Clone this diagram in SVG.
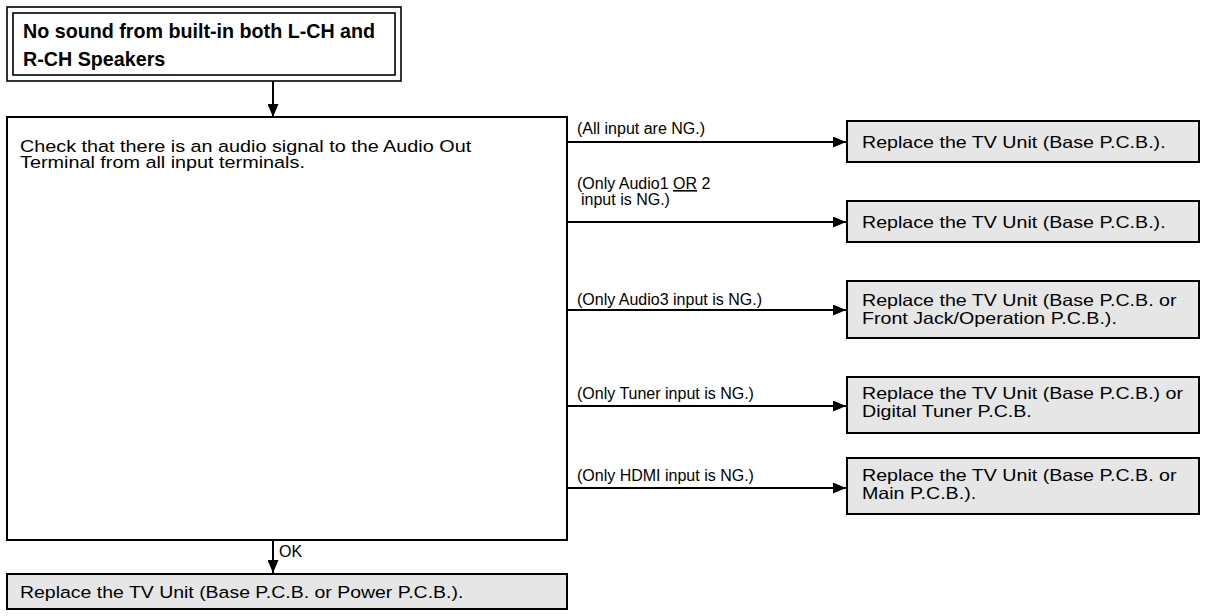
<svg xmlns="http://www.w3.org/2000/svg" width="1207" height="616" viewBox="0 0 1207 616">
<defs>
<marker id="ah" viewBox="0 0 13 11" refX="13" refY="5.5" markerWidth="13" markerHeight="11" markerUnits="userSpaceOnUse" orient="auto">
<path d="M0,0 L13,5.5 L0,11 z" fill="#000"/>
</marker>
<style>
.t{font-family:"Liberation Sans",Arial,sans-serif;font-size:16.5px;fill:#000}
.l{font-family:"Liberation Sans",Arial,sans-serif;font-size:16px;fill:#000}
.b{font-family:"Liberation Sans",Arial,sans-serif;font-size:19.7px;font-weight:bold;fill:#000}
.box{fill:#fff;stroke:#000;stroke-width:2}
.dbl{fill:none;stroke:#000;stroke-width:1.6}
.gbox{fill:#e6e6e6;stroke:#000;stroke-width:2}
.ln{fill:none;stroke:#000;stroke-width:2}
</style>
</defs>
<rect width="1207" height="616" fill="#fff"/>
<g id="title">
<rect class="dbl" x="7" y="7" width="394" height="74" fill="#fff"/>
<rect class="dbl" x="13" y="13" width="382" height="62"/>
<text class="b" x="23" y="38">No sound from built-in both L-CH and</text>
<text class="b" x="23" y="66">R-CH Speakers</text>
</g>
<g id="check">
<rect class="box" x="7" y="117" width="560" height="423"/>
<text class="t" transform="translate(20,152) scale(1.2,1)">Check that there is an audio signal to the Audio Out</text>
<text class="t" transform="translate(20,168) scale(1.2,1)">Terminal from all input terminals.</text>
</g>
<g id="r1">
<rect class="gbox" x="847" y="121" width="352" height="41"/>
<text class="t" transform="translate(862,148) scale(1.19,1)">Replace the TV Unit (Base P.C.B.).</text>
</g>
<g id="r2">
<rect class="gbox" x="847" y="201" width="352" height="41"/>
<text class="t" transform="translate(862,228) scale(1.19,1)">Replace the TV Unit (Base P.C.B.).</text>
</g>
<g id="r3">
<rect class="gbox" x="847" y="281" width="352" height="57"/>
<text class="t" transform="translate(862,306) scale(1.19,1)">Replace the TV Unit (Base P.C.B. or</text>
<text class="t" transform="translate(862,324) scale(1.19,1)">Front Jack/Operation P.C.B.).</text>
</g>
<g id="r4">
<rect class="gbox" x="847" y="377" width="352" height="56"/>
<text class="t" transform="translate(862,399) scale(1.19,1)">Replace the TV Unit (Base P.C.B.) or</text>
<text class="t" transform="translate(862,417) scale(1.19,1)">Digital Tuner P.C.B.</text>
</g>
<g id="r5">
<rect class="gbox" x="847" y="458" width="352" height="56"/>
<text class="t" transform="translate(862,481) scale(1.19,1)">Replace the TV Unit (Base P.C.B. or</text>
<text class="t" transform="translate(862,499) scale(1.19,1)">Main P.C.B.).</text>
</g>
<g id="r6">
<rect class="gbox" x="7" y="574" width="560" height="35"/>
<text class="t" transform="translate(20,598) scale(1.18,1)">Replace the TV Unit (Base P.C.B. or Power P.C.B.).</text>
</g>
<g id="connectors">
<line class="ln" x1="273" y1="81" x2="273" y2="117" marker-end="url(#ah)"/>
<line class="ln" x1="567" y1="142" x2="846" y2="142" marker-end="url(#ah)"/>
<line class="ln" x1="567" y1="222" x2="846" y2="222" marker-end="url(#ah)"/>
<line class="ln" x1="567" y1="310" x2="846" y2="310" marker-end="url(#ah)"/>
<line class="ln" x1="567" y1="406" x2="846" y2="406" marker-end="url(#ah)"/>
<line class="ln" x1="567" y1="488" x2="846" y2="488" marker-end="url(#ah)"/>
<line class="ln" x1="273" y1="540" x2="273" y2="573" marker-end="url(#ah)"/>
<text class="l" x="577" y="134">(All input are NG.)</text>
<text class="l" x="577" y="189">(Only Audio1 <tspan text-decoration="underline">OR</tspan> 2</text>
<text class="l" x="581" y="205">input is NG.)</text>
<text class="l" x="577" y="305">(Only Audio3 input is NG.)</text>
<text class="l" x="577" y="399">(Only Tuner input is NG.)</text>
<text class="l" x="577" y="481">(Only HDMI input is NG.)</text>
<text class="l" x="279" y="557">OK</text>
</g>
</svg>
